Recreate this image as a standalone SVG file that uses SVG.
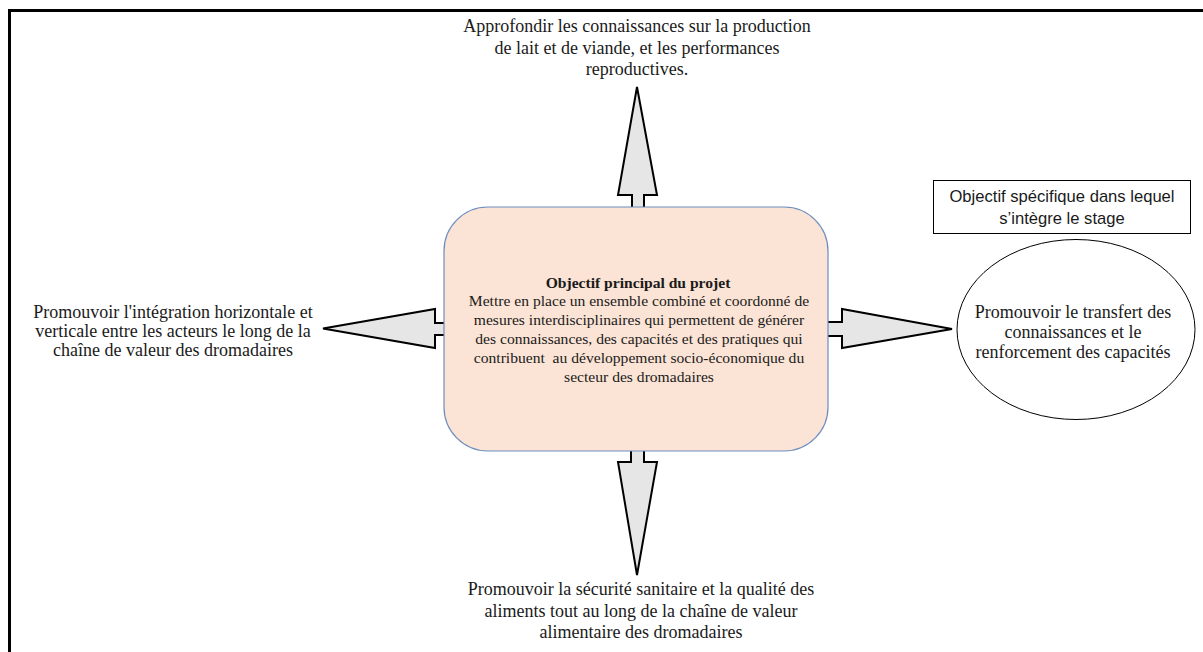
<svg xmlns="http://www.w3.org/2000/svg" width="1203" height="652" viewBox="0 0 1203 652">
<style>
.t{font-family:"Liberation Serif","Times New Roman",serif;font-size:18px;fill:#1a1a1a;text-anchor:middle}
.m{font-size:15.6px}
.b{font-weight:bold}
.s{font-family:"Liberation Sans",Arial,sans-serif;font-size:16.6px;fill:#1a1a1a;text-anchor:middle}
.arr{fill:#e6e6e6;stroke:#000;stroke-width:2;stroke-linejoin:miter}
</style>
<rect width="1203" height="652" fill="#fff"/>
<path d="M9.5 652 V10.5 H1203" fill="none" stroke="#000" stroke-width="3"/>
<g id="connectors">
<path class="arr" d="M632 207 V195 H618 L637 87 L657 195 H644 V207"/>
<path class="arr" d="M631 451 V462 H618 L637 575 L657 462 H644 V451"/>
<path class="arr" d="M444 323 H435 V309 L323 328.5 L435 348 V335 H444"/>
<path class="arr" d="M828 322 H842 V309 L952 329 L842 348 V336 H828"/>
</g>
<g id="main">
<rect x="444" y="207" width="384" height="244" rx="44" fill="#fbe4d5" stroke="#6c8ebf" stroke-width="1.2"/>
<text class="t m b" x="638" y="288">Objectif principal du projet</text>
<text class="t m" x="639" y="306">Mettre en place un ensemble combiné et coordonné de</text>
<text class="t m" x="639" y="325">mesures interdisciplinaires qui permettent de générer</text>
<text class="t m" x="639" y="344">des connaissances, des capacités et des pratiques qui</text>
<text class="t m" x="639" y="363" xml:space="preserve">contribuent  au développement socio-économique du</text>
<text class="t m" x="639" y="382">secteur des dromadaires</text>
</g>
<g id="top">
<text class="t" x="637" y="32">Approfondir les connaissances sur la production</text>
<text class="t" x="637" y="54">de lait et de viande, et les performances</text>
<text class="t" x="637" y="75">reproductives.</text>
</g>
<g id="left">
<text class="t" x="173" y="318">Promouvoir l'intégration horizontale et</text>
<text class="t" x="173" y="337">verticale entre les acteurs le long de la</text>
<text class="t" x="173" y="356">chaîne de valeur des dromadaires</text>
</g>
<g id="bottom">
<text class="t" x="641" y="595">Promouvoir la sécurité sanitaire et la qualité des</text>
<text class="t" x="641" y="617">aliments tout au long de la chaîne de valeur</text>
<text class="t" x="641" y="638">alimentaire des dromadaires</text>
</g>
<g id="right">
<ellipse cx="1076" cy="329.5" rx="119" ry="90" fill="#fff" stroke="#000" stroke-width="1"/>
<text class="t" x="1073" y="318">Promouvoir le transfert des</text>
<text class="t" x="1073" y="338">connaissances et le</text>
<text class="t" x="1073" y="358">renforcement des capacités</text>
</g>
<g id="label">
<rect x="933.5" y="180.5" width="257" height="53" fill="#fff" stroke="#000" stroke-width="1"/>
<text class="s" x="1062" y="202">Objectif spécifique dans lequel</text>
<text class="s" x="1062" y="224">s’intègre le stage</text>
</g>
</svg>
